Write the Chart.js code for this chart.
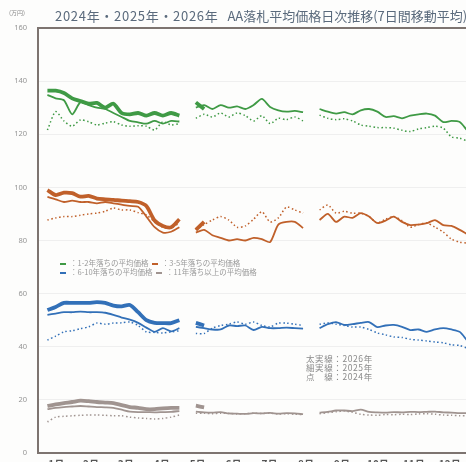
<!DOCTYPE html>
<html><head><meta charset="utf-8">
<script src="https://cdn.jsdelivr.net/npm/chart.js@4.4.1/dist/chart.umd.min.js"></script>
<style>
html,body{margin:0;padding:0;background:#fdfdfc;overflow:hidden;}
#wrap{position:relative;width:466px;height:462px;overflow:hidden;font-family:"Noto Sans CJK JP","Noto Sans",sans-serif;}
#wrap canvas{position:absolute;left:0;top:0;}
.t{position:absolute;white-space:nowrap;}
#title{left:55px;top:6px;font-size:13px;color:#5a6a7c;}
#title .yr{letter-spacing:0.7px;margin-right:9px;}
#unit{left:9px;top:8px;font-size:6px;color:#888;}
.lg{font-size:7.5px;color:#9a9a9a;line-height:9px;}
.lg i{display:inline-block;width:6px;height:2px;vertical-align:middle;margin-right:4px;}
#note{left:306px;top:354px;font-size:8.5px;line-height:9px;color:#8a8a8a;letter-spacing:0.6px;}
</style></head><body>
<div id="wrap">
<canvas id="c" width="476" height="472" style="width:476px;height:472px"></canvas>
<div class="t" id="unit">(万円)</div>
<div class="t" id="title"><span class="yr">2024年・2025年・2026年</span>AA落札平均価格日次推移(7日間移動平均)</div>
<div class="t lg" style="left:60px;top:258px;"><i style="background:#3f9a45"></i>：1-2年落ちの平均価格&nbsp;&nbsp;<i style="background:#c0602a"></i>：3-5年落ちの平均価格</div>
<div class="t lg" style="left:60px;top:267px;"><i style="background:#3270b8"></i>：6-10年落ちの平均価格&nbsp;&nbsp;<i style="background:#a09490"></i>：11年落ち以上の平均価格</div>
<div class="t" id="note">太実線：2026年<br>細実線：2025年<br>点　線：2024年</div>
</div>
<script>
// day of year for each weekly point (nulls mark the auction breaks)
const days = [8,15,22,29,36,43,50,57,64,71,78,85,92,99,106,113,120,127,134,141,148,155,162,169,176,183,190,197,204,211,218,225,232,239,246,253,260,267,274,281,288,295,302,309,316,323,330,337,344,351,358,364];
const months = ['1月','2月','3月','4月','5月','6月','7月','8月','9月','10月','11月','12月'];
const monthMid = [15.5,45,74.5,105,135.5,166,196.5,227.5,258,288.5,319,349.5];

// 1-2年落ち
const green2026 = [136.4,136.4,135.5,133.5,132.5,131.5,131.8,130,131.5,128,127.5,128,127,128,127,128,127,null,132,129.5];
const green2025 = [134.8,133.5,132.8,127.5,132,131,130,129.5,128,126.5,125,124.5,124,125,124,125,124.8,null,130,131,129.5,131,130,130.5,129.5,131,133.3,130.3,129,128.5,128.8,128.3,null,129.5,128.5,127.8,128.3,127.5,129,129.5,128.5,126.5,126.8,126,127,127.5,127.8,127,124.6,125,124.6,121.6];
const green2024 = [121.6,128.5,125,123,125.4,124.7,123.5,124.2,124.7,123.5,123,123.2,123,121.6,124.7,123.5,124,null,126,127.5,126.5,128,126.5,128,127,125,127,124,126,125.5,126.5,125,null,127.2,126,125.5,125.8,125,123.5,123,122.5,122.5,122.3,121.5,121,122,122.5,123,122.3,119,118.5,117.5];
// 3-5年落ち
const orange2026 = [99,97.1,98,97.8,96.5,96.8,95.8,95.5,95.3,95,94.8,94.5,93,87.5,85.5,85,88,null,84,87];
const orange2025 = [96.4,95.5,94.5,95,94.5,94.5,94,94.5,94,93.5,93,92.7,89,85,83,83.3,85,null,83,84,82,81,80,80.5,80,81,80.5,79.4,86,87,87,84.7,null,87.7,90,87,89,88.5,90.3,89,86.6,87.5,89,87,85.8,86,86.5,87.7,85.8,85.5,84,82.5];
const orange2024 = [87.7,88.5,89,89,89.5,90,90.3,91,92.2,91.5,91.5,90.5,89.6,87,85,84.7,86.6,null,84,86,87.7,89,87.7,85,85.5,88,90.8,87,88.5,92.6,91.5,90.3,null,91.5,93.4,90.3,91,90.3,90.3,89,86.6,88,89,87.5,85,86,86.6,85,83.2,80.5,79.4,79];
// 6-10年落ち
const blue2026 = [53.8,55,56.5,56.5,56.5,56.5,56.8,56.5,55.5,55.2,55.7,53,50,49,48.9,48.9,50,null,49,48];
const blue2025 = [52,52.5,53,53,53.2,53,53,52.8,52,51,50.2,49,47.2,45.6,47,45.8,47,null,47.5,47,46.5,46.5,48,47.8,48,46.3,47.5,47,47,47.2,47,46.8,null,47,48.5,49.3,48.2,48.5,49,49.3,47.4,48,48.2,47.5,46.3,46.5,45.6,46.5,47,46.5,45.6,42.5];
const blue2024 = [42.5,44,45.6,46,46.8,47.5,48.9,48.5,48.9,49,49.3,48,45.6,45.4,45.2,45.6,46,null,45,45,47,48,48.5,49.3,48.5,49.3,48,47.5,48.9,48.9,48.5,48,null,48.5,49,48.5,48,47.4,47.4,46.5,45.2,44.5,43.7,43.5,42.8,42.5,42.2,41.8,41.5,40.7,40.5,39.5];
// 11年落ち以上
const gray2026 = [17.7,18.3,18.8,19.2,19.7,19.5,19.2,19,18.8,18,17.3,17,16.5,16.5,16.8,17,17,null,17.8,17.2];
const gray2025 = [16.5,17,17.3,17.5,17.7,17.5,17.3,17.2,17,16.3,15.6,15.4,15.4,15.3,15.4,15.5,15.8,null,15.6,15.3,15.2,15.4,14.9,14.8,14.7,15,14.9,15.1,14.8,15,14.9,14.6,null,15.2,15.5,16,16,15.8,16.3,15.5,15.3,15.2,15.4,15.3,15.5,15.4,15.5,15.6,15.3,15.2,15,15];
const gray2024 = [11.7,13.5,13.8,14,14.2,14.3,14.3,14.2,14,14,13.5,13.2,13,12.8,13,13.5,14.3,null,15,15,14.8,15,14.9,14.7,14.8,15,14.9,15,14.7,14.8,14.6,14.5,null,14.8,15.2,15.5,15.8,15.3,14.6,14.3,14.2,14.5,14.4,14.6,14.5,14.7,14.8,14.6,14.3,14.2,14,14];

const groups = [
  ['#3f9a45', green2024, green2025, green2026],
  ['#c0602a', orange2024, orange2025, orange2026],
  ['#3270b8', blue2024, blue2025, blue2026],
  ['#a09490', gray2024, gray2025, gray2026]
];

function pts(vals) {
  return vals.map((v, i) => ({ x: days[i], y: v }));
}

const datasets = [];
groups.forEach(([col, y24, y25, y26]) => {
  datasets.push({ data: pts(y24), borderColor: col, borderWidth: 1.5, borderDash: [1.5, 2.5] });
  datasets.push({ data: pts(y25), borderColor: col, borderWidth: 1.8 });
  datasets.push({ data: pts(y26), borderColor: col, borderWidth: 3.8 });
});
datasets.forEach(d => { d.pointRadius = 0; d.tension = 0.25; d.fill = false; d.spanGaps = false; });

const frameColor = '#7d7470';
const topLine = {
  id: 'topLine',
  afterDraw(chart) {
    const a = chart.chartArea, c = chart.ctx;
    c.save();
    c.strokeStyle = frameColor;
    c.lineWidth = 2;
    c.beginPath();
    c.moveTo(a.left - 1, a.top);
    c.lineTo(a.right, a.top);
    c.stroke();
    c.restore();
  }
};

new Chart(document.getElementById('c'), {
  type: 'line',
  data: { datasets },
  options: {
    responsive: false,
    animation: false,
    layout: { padding: { left: 0, right: 8, top: 28, bottom: 0 } },
    plugins: { legend: { display: false }, tooltip: { enabled: false } },
    scales: {
      x: {
        type: 'linear', min: 0, max: 365,
        afterBuildTicks: s => { s.ticks = monthMid.map(v => ({ value: v })); },
        afterFit: s => { s.height = 19; },
        ticks: {
          callback: (v, i) => months[i], autoSkip: false, maxRotation: 0, padding: 5,
          color: '#555', font: { family: '"Noto Sans CJK JP"', size: 10, weight: 'bold' }
        },
        grid: { display: false, drawTicks: false },
        border: { color: frameColor, width: 2 }
      },
      y: {
        min: 0, max: 160,
        afterFit: s => { s.width = 38; },
        ticks: {
          stepSize: 20, padding: 11, color: '#959595',
          font: { family: '"Noto Sans"', size: 7.5 }
        },
        grid: { color: '#efefef', drawTicks: false },
        border: { color: frameColor, width: 2 }
      }
    }
  },
  plugins: [topLine]
});
</script>
</body></html>
